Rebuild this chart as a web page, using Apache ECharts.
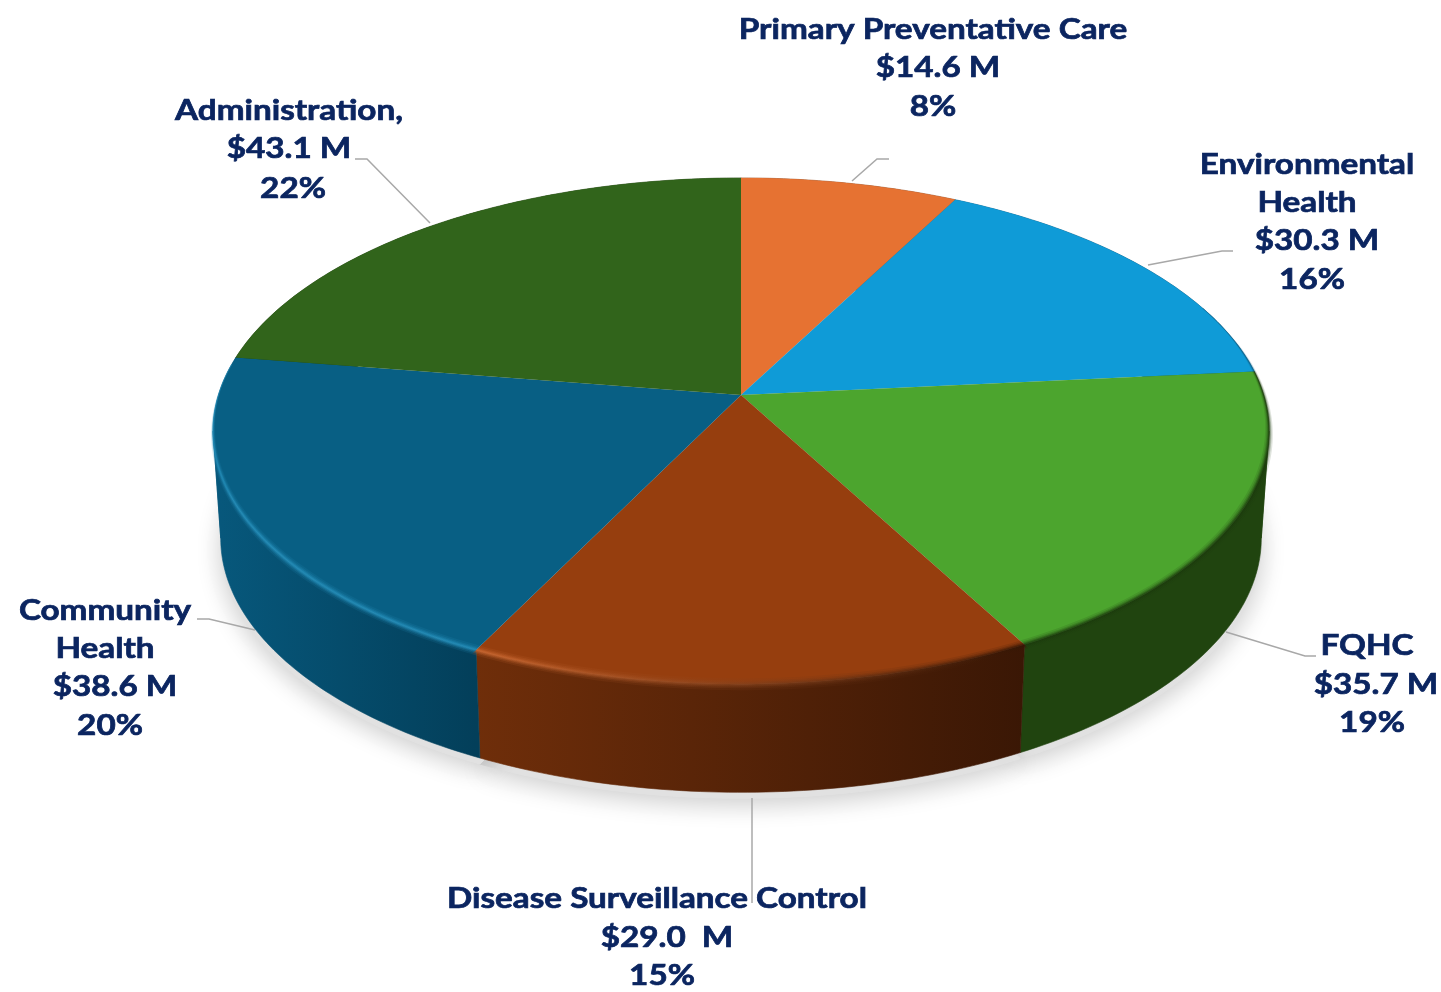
<!DOCTYPE html>
<html><head><meta charset="utf-8">
<style>html,body{margin:0;padding:0;background:#fff}#c{width:1441px;height:992px}</style>
<script src="https://cdn.jsdelivr.net/npm/echarts@6/dist/echarts.min.js"></script>
</head><body><div id="c"></div>
<script>
// Data
const categories = ['Primary Preventative Care','Environmental Health','FQHC','Disease Surveillance Control','Community Health','Administration'];
const amounts = [14.6, 30.3, 35.7, 29.0, 38.6, 43.1];
const percents = [8, 16, 19, 15, 20, 22];
const amountLabels = ['$14.6 M','$30.3 M','$35.7 M','$29.0  M','$38.6 M','$43.1 M'];
const nameLines = [['Primary Preventative Care'],['Environmental','Health'],['FQHC'],['Disease Surveillance Control'],['Community','Health'],['Administration,']];

// Styles
const topColors = ['#E67232','#0F9BD7','#4CA52E','#963E0E','#085F84','#31641B'];
const wallStops = [['#a04f20','#a04f20'],['#0a6a96','#0a5a80'],['#20440F','#20440F'],['#6F2E0A','#3A1705'],['#07587C','#033F5A'],['#20440F','#20440F']];
const rimColors = [['#E67232','#E67232'],['#0a5f88','#0a5f88'],['#1b3a0c','#1b3a0c'],['#cf6a32','#341504'],['#2590BC','#2590BC'],['#31641B','#31641B']];
const TEXT = '#0B2560', LEAD = '#A8A8A8';

// Layout: perspective disc, top and bottom faces
const P = 0.1423;
const TOP = {cx:741, cy:395, a:522.6, b:248};
const BOT = {cx:741, cy:502, a:515, b:249};
const FRONT = [0.2728, 0.7272];
const RIM = [0.19, 0.77];
const RIM_LAYERS = [[6,0.14],[4,0.22],[2.5,0.35],[1.3,0.5]];
function pt(f, fr){
  const t = fr*2*Math.PI, u = Math.sin(t), v = Math.cos(t), w = 1+P*v;
  return [f.cx + f.a*u/w, f.cy - f.b*v/w];
}
function arc(f, a, b){
  const n = Math.max(4, Math.ceil((b-a)*400)), out = [];
  for(let i=0;i<=n;i++) out.push(pt(f, a+(b-a)*i/n));
  return out;
}
// Band around the top edge, thinning to nothing towards the back of the disc
function rimBand(a, b, half){
  const n = Math.max(4, Math.ceil((b-a)*400)), outer = [], inner = [];
  for(let i=0;i<=n;i++){
    const fr = a+(b-a)*i/n, q = pt(TOP, fr);
    const dx = q[0]-TOP.cx, dy = q[1]-TOP.cy, r = Math.hypot(dx,dy);
    const edge = Math.min(fr-RIM[0], RIM[1]-fr);
    const taper = Math.max(0.12, Math.min(1, edge/0.13));
    const d = half*taper/r;
    outer.push([q[0]+dx*d, q[1]+dy*d]);
    inner.push([q[0]-dx*d, q[1]-dy*d]);
  }
  return outer.concat(inner.reverse());
}
const total = amounts.reduce((s,x)=>s+x,0);
let run = 0;
const sliceData = amounts.map((v,i)=>{const s=run/total; run+=v; return [s, run/total, i];});
const gGrad = (x0,x1,c)=>({type:'linear',x:x0,y:0,x2:x1,y2:0,global:true,colorStops:[{offset:0,color:c[0]},{offset:1,color:c[1]}]});

// Label and leader placement
const labelPos = [
 [[933,30],[938,68],[933,107]],
 [[1307,165],[1307,203],[1317,241],[1312,280]],
 [[1367,646],[1376,685],[1372,723]],
 [[657,899],[667,938],[662,976]],
 [[105,611],[105,649],[115,687],[110,726]],
 [[289,111],[289,149],[293,189]]
];
const TEXT_STRETCH = 1.146;
const leaders = [
 [[852,181],[877,159],[889,159]],
 [[1148,265],[1222,251],[1233,251]],
 [[1226,632],[1305,656],[1316,656]],
 [[752,798],[752,903]],
 [[255,630],[209,619],[197,619]],
 [[430,223],[367,159],[355,159]]
];
const textItems = [];
categories.forEach((c,i)=>{
  const lines = nameLines[i].concat([amountLabels[i], percents[i]+'%']);
  lines.forEach((t,j)=>textItems.push({value:[i,j], text:t, pos:labelPos[i][j]}));
});

const layer = (z, fn, data)=>({type:'custom',coordinateSystem:'none',silent:true,z,data:data||sliceData,renderItem:fn,animation:false,clip:false});

const option = {
  animation:false,
  backgroundColor:'#ffffff',
  series:[
    // ground shadow
    layer(1,(p,api)=>({type:'polygon',
      shape:{points:arc(BOT,api.value(0),api.value(1)).concat([[BOT.cx,BOT.cy]]).map(q=>[q[0],q[1]+6])},
      style:{fill:'#e2e2e2',stroke:'#e2e2e2',lineWidth:1,shadowBlur:24,shadowColor:'rgba(0,0,0,0.2)',shadowOffsetY:6}})),
    // side walls, split where the disc's silhouette turns so no polygon folds over itself
    layer(2,(p,api)=>{
      const a=api.value(0),b=api.value(1),i=api.value(2);
      const xs=arc(TOP,a,b).map(q=>q[0]), x0=Math.min(...xs), x1=Math.max(...xs);
      const cuts=[a].concat(FRONT.filter(f=>f>a&&f<b),[b]);
      const children=[];
      for(let k=0;k<cuts.length-1;k++){
        const pts=arc(TOP,cuts[k],cuts[k+1]).concat(arc(BOT,cuts[k],cuts[k+1]).reverse());
        const g=gGrad(x0,x1,wallStops[i]);
        children.push({type:'polygon',shape:{points:pts},style:{fill:g,stroke:g,lineWidth:0.6}});
      }
      return {type:'group',children};
    }),
    // top faces
    layer(3,(p,api)=>{
      const a=api.value(0),b=api.value(1),i=api.value(2);
      const pts=[[TOP.cx,TOP.cy]].concat(arc(TOP,a,b));
      return {type:'polygon',shape:{points:pts},style:{fill:topColors[i]}};
    }),
    // rim bevel along the front edge of the top face
    layer(4,(p,api)=>{
      const a=api.value(0),b=api.value(1),i=api.value(2);
      const fa=Math.max(a,RIM[0]), fb=Math.min(b,RIM[1]);
      if(fb<=fa) return {type:'group',children:[]};
      const xs=arc(TOP,fa,fb).map(q=>q[0]);
      const g=gGrad(Math.min(...xs),Math.max(...xs),rimColors[i]);
      return {type:'group',children:RIM_LAYERS.map(s=>({type:'polygon',shape:{points:rimBand(fa,fb,s[0])},style:{fill:g,opacity:s[1]}}))};
    }),
    // leaders
    layer(5,(p,api)=>({type:'polyline',shape:{points:leaders[api.value(2)]},style:{fill:null,stroke:LEAD,lineWidth:1.5}})),
    // labels
    {type:'custom',coordinateSystem:'none',silent:true,z:6,animation:false,clip:false,
     data:textItems,
     renderItem:(p)=>{
       const it=textItems[p.dataIndex];
       return {type:'text',x:it.pos[0],y:it.pos[1],scaleX:TEXT_STRETCH,style:{x:0,y:0,text:it.text,fill:TEXT,stroke:TEXT,lineWidth:0.7,font:'700 29px Lato',align:'center',verticalAlign:'middle'}};
     }}
  ]
};
const chart = echarts.init(document.getElementById('c'),null,{renderer:'canvas',width:1441,height:992});
chart.setOption(option);
</script></body></html>
